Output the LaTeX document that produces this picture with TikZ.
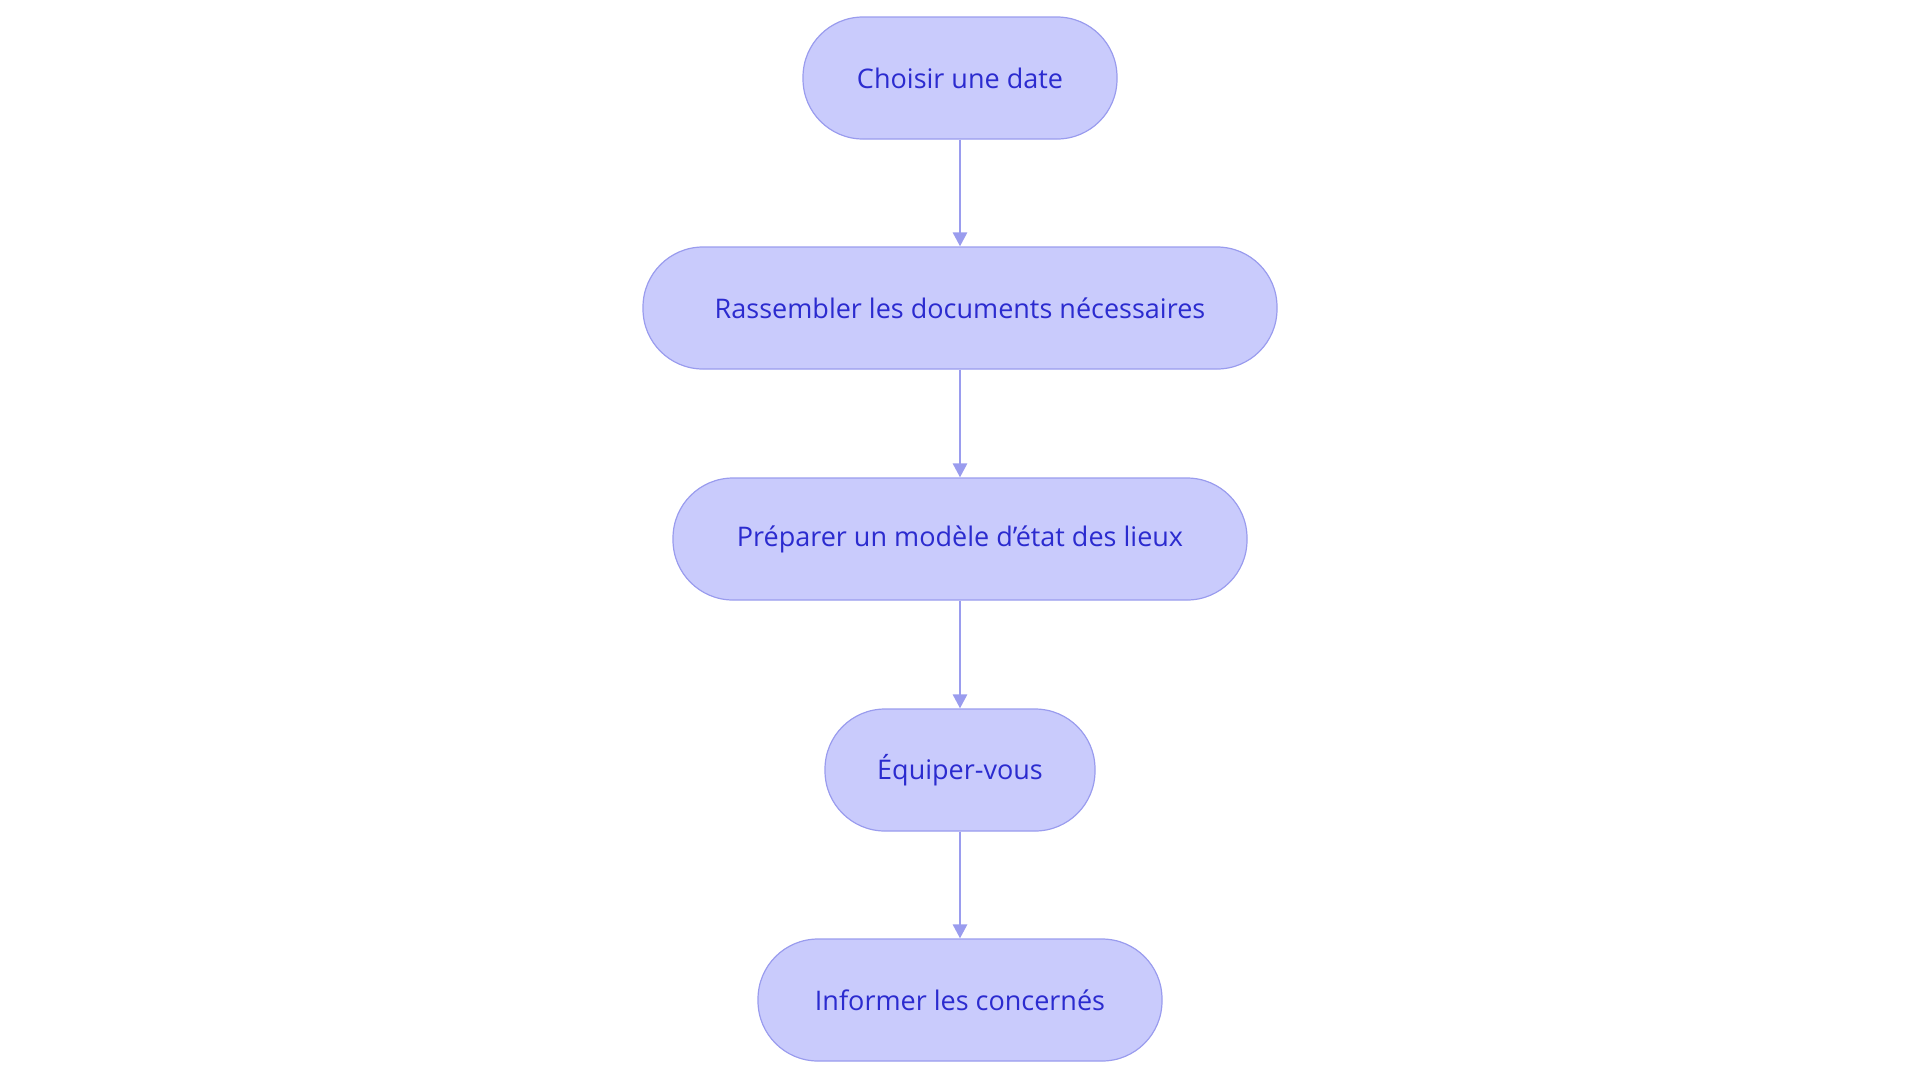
\documentclass[tikz,border=0pt]{standalone}
\usepackage{fontspec}
\setmainfont{Open Sans}
\usetikzlibrary{arrows.meta}
\definecolor{nfill}{HTML}{C9CBFC}
\definecolor{nline}{HTML}{9A9CEE}
\definecolor{ntext}{HTML}{2B2BCF}
\begin{document}
\begin{tikzpicture}[x=0.5pt,y=-0.5pt,
  box/.style={draw=nline,line width=0.6pt,fill=nfill,text=ntext,rounded corners=30pt,minimum height=61pt,inner sep=0pt,font=\fontsize{13.5}{16}\selectfont},
  arr/.style={draw=nline,line width=1.4pt,-{Triangle[length=7pt,width=7pt]}}]
\useasboundingbox (0,0) rectangle (1920,1083);
\node[box,minimum width=157pt] (a) at (960,78) {Choisir une date};
\node[box,minimum width=317pt] (b) at (960,308) {Rassembler les documents nécessaires};
\node[box,minimum width=287pt] (c) at (960,539) {Préparer un modèle d'état des lieux};
\node[box,minimum width=135pt] (d) at (960,770) {Équiper-vous};
\node[box,minimum width=202pt] (e) at (960,1000) {Informer les concernés};
\draw[arr] (a) -- (b);
\draw[arr] (b) -- (c);
\draw[arr] (c) -- (d);
\draw[arr] (d) -- (e);
\end{tikzpicture}
\end{document}
